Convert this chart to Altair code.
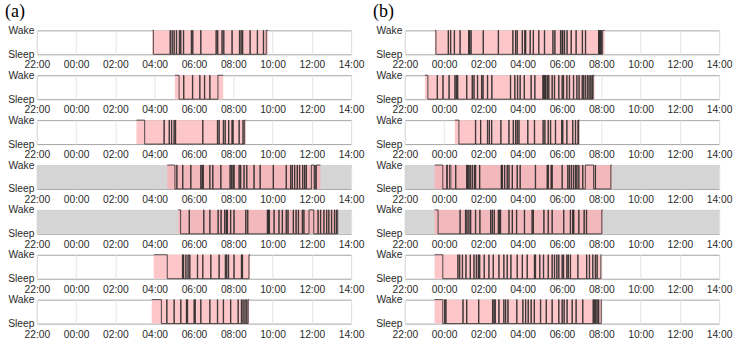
import altair as alt
import pandas as pd

# Time is measured in hours elapsed since 22:00 (0 = 22:00, 16 = 14:00 next day).
HOURS = list(range(0, 17, 2))
BOUT = 0.02  # length (h) of a brief awakening when not given as (start, length)

PANEL_W, PANEL_H = 315, 24
GRAY = "#d5d5d5"
PINK = "#fdc6c9"
PINK_ON_GRAY = "#f3b8bc"
LINE = "#262626"

# ---- column (a) ----
a_start = [5.88, 7.03, 5.07, 6.64, 7.20, 5.95, 5.85]
a_onset = [5.93, 7.24, 5.49, 7.03, 7.32, 6.64, 6.34]
a_final = [11.68, 9.22, 10.58, 14.24, 15.32, 10.80, 10.76]
a_end = [11.78, 9.49, 10.63, 14.44, 15.34, 10.86, 10.81]
a_shaded = [False, False, False, True, True, False, False]

a1_wake = [6.78, 6.88, 6.98, 7.10, 7.25, 7.32, 7.46, 7.86, 7.93, 8.34, 9.12, 9.20,
           9.42, 9.51, 9.93, 10.31, 10.39, 10.47, 10.85, 11.22, 11.53]
a2_wake = [7.47, 7.92, 8.29, 8.53, 8.80]
a3_wake = [6.47, 6.73, 6.85, 6.98, 7.05, 8.44, 9.19, 9.27, 9.49, 9.58, 9.76, 9.93,
           9.98, 10.29, 10.49]
a4_wake = [7.12, 7.42, 7.83, 8.34, 8.41, 8.46, 8.80, 8.95, 9.36, 9.83, 9.90, 9.98,
           10.03, 10.29, 10.37, 10.54, 10.68, 11.05, 11.36, 12.03, 12.69, 12.92, 13.00,
           13.12, 13.25, 13.37, 13.53, 13.63, 13.71, (13.98, 0.14), 14.16]
a5_wake = [7.75, 8.49, 8.80, 9.22, 9.37, 9.56, 9.64, 9.69, 9.86, 10.03, 10.63, 10.73,
           11.73, 11.78, 11.83, 12.07, 12.32, 12.49, 12.69, 12.78, 13.05, 13.19, 13.31,
           13.51, 13.59, (13.86, 0.24), 14.31, 14.44, 14.61, 14.75, 14.86, 15.00, 15.15,
           15.25]
a6_wake = [7.41, 7.46, 7.58, 7.69, 7.78, 8.17, 8.44, 8.85, 9.27, 9.59, 9.66, 9.75,
           10.03, 10.41, 10.46]
a7_wake = [6.61, 6.98, 7.32, 7.61, 7.66, 8.00, 8.05, 8.34, 8.80, 9.19, 9.49, 9.86,
           10.24, 10.41, 10.49, 10.59, 10.68]

# ---- column (b) ----
b_start = [1.53, 1.02, 2.54, 1.51, 1.51, 1.51, 1.51]
b_onset = [1.58, 1.17, 2.75, 1.93, 1.69, 1.93, 1.93]
b_final = [10.07, 9.59, 8.85, 10.49, 10.03, 9.98, 10.00]
b_end = [10.17, 9.66, 8.90, 10.54, 10.07, 10.02, 10.03]
b_shaded = [False, False, False, True, True, False, False]

b1_wake = [2.20, 2.32, 2.51, 2.80, 3.24, 3.29, 3.36, 3.98, 4.75, 5.49, 5.63, 5.71,
           5.97, 6.10, 6.14, 6.37, 6.53, 6.81, 7.10, 7.53, 7.63, 7.92, 8.00, 8.03,
           8.12, 8.25, 8.46, 8.71, 9.03, 9.19, 9.86, 9.90, 9.95, 10.00]
b2_wake = [1.64, 1.93, 2.24, 2.54, 2.61, 2.68, 3.14, 3.42, 3.51, 3.69, 3.90, 3.97,
           4.20, 4.42, 5.37, 5.59, 5.73, 5.86, 6.07, 6.42, 6.61, 7.02, 7.07, 7.12,
           7.17, 7.25, 7.32, 7.49, 7.61, 7.83, 8.00, 8.07, 8.24, 8.37, 8.58, 8.75,
           8.86, 9.02, 9.10, 9.19, 9.29, 9.37, 9.46, 9.53]
b3_wake = [3.59, 3.85, 4.20, 4.29, 4.41, 4.88, 5.29, 5.51, 5.63, 5.71, 5.80, 6.25,
           6.59, 7.03, 7.12, 7.29, 7.41, 7.66, 7.98, 8.03, 8.24, 8.54, 8.68, 8.81]
b4_wake = [(2.12, 0.05), (2.27, 0.07), 2.58, 3.14, 3.19, 3.25, 3.32, 3.42, 3.53, 3.59,
           3.80, 4.90, 4.95, 5.07, 5.20, 5.29, 5.46, 5.71, 5.86, 6.64, 7.24, 7.29,
           7.44, 7.49, 8.00, 8.29, 8.37, 8.47, 8.58, 8.68, 8.75, 8.85, 9.05,
           (9.19, 0.42), 9.69]
b5_wake = [2.80, 3.08, 3.15, 3.25, 3.34, 3.59, 3.81, 4.36, 4.44, 4.54, 4.75, 4.81,
           4.86, 5.29, 5.46, 5.68, 6.08, 6.47, 6.53, 7.07, 7.29, 7.49, 8.08, 8.42,
           8.54, 8.59, 8.85, 9.12, 9.24]
b6_wake = [2.69, 2.78, 2.92, 3.10, 3.32, 3.51, 3.63, 3.73, 3.80, 4.03, 4.27, 4.49,
           4.78, 5.03, 5.20, 5.39, 5.71, 5.97, 6.22, 6.59, 6.64, 6.86, 7.05, 7.29,
           7.49, 7.61, 7.73, 7.83, 8.00, 8.07, 8.24, 8.31, 8.42, 8.80, 9.25, 9.39,
           9.56, 9.69, 9.78]
b7_wake = [2.02, 2.08, 2.95, 3.14, 3.75, 4.46, 4.53, 4.59, 4.78, 5.03, 5.12, 5.24,
           5.69, 6.00, 6.14, 6.27, 6.42, 6.58, 6.90, 7.19, 7.49, 7.83, 8.00, 8.10,
           8.25, 8.51, 8.71, 9.05, 9.58, 9.64, 9.71, 9.78, 9.86]

a_wake = [a1_wake, a2_wake, a3_wake, a4_wake, a5_wake, a6_wake, a7_wake]
b_wake = [b1_wake, b2_wake, b3_wake, b4_wake, b5_wake, b6_wake, b7_wake]

X_SCALE = alt.Scale(domain=[HOURS[0], HOURS[-1]], nice=False, zero=False)
Y_SCALE = alt.Scale(domain=[0, 1], nice=False, zero=False)
CLOCK = ("((datum.value + 22) % 24 < 10 ? '0' : '') + "
         "((datum.value + 22) % 24) + ':00'")
X_AXIS = alt.Axis(values=HOURS, labelExpr=CLOCK, title=None, grid=True,
                  gridColor="#e4e4e4", domain=False, ticks=False, labelPadding=5.5,
                  labelFlush=False, labelOverlap=False)
Y_AXIS = alt.Axis(values=[0, 1], labelExpr="datum.value == 1 ? 'Wake' : 'Sleep'",
                  title=None, grid=False, domain=False, ticks=False, labelPadding=3,
                  labelFlush=False, labelOverlap=False)


def hypnogram(start, onset, wake, final, end):
    """Step trace: 1 = Wake, 0 = Sleep."""
    rows = [(start, 1), (onset, 0)]
    for bout in wake:
        t, d = bout if isinstance(bout, tuple) else (bout, BOUT)
        rows += [(t, 1), (t + d, 0)]
    rows += [(final, 1), (end, 1)]
    return pd.DataFrame(rows, columns=["t", "state"])


def panel(start, onset, wake, final, end, shaded, label=None):
    x = alt.X("t:Q", scale=X_SCALE, axis=X_AXIS)
    layers = []
    if shaded:
        bg = pd.DataFrame({"t": [HOURS[0]], "t2": [HOURS[-1]]})
        layers.append(
            alt.Chart(bg).mark_rect(color=GRAY).encode(
                x=x, x2="t2", y=alt.value(0), y2=alt.value(PANEL_H)))
    period = pd.DataFrame({"t": [start], "t2": [end]})
    layers.append(
        alt.Chart(period).mark_rect(color=PINK_ON_GRAY if shaded else PINK).encode(
            x=x, x2="t2", y=alt.value(0), y2=alt.value(PANEL_H)))
    layers.append(
        alt.Chart(hypnogram(start, onset, wake, final, end))
        .mark_line(interpolate="step-after", color=LINE, strokeWidth=0.8)
        .encode(x=x, y=alt.Y("state:Q", scale=Y_SCALE, axis=Y_AXIS)))
    chart = alt.layer(*layers).properties(width=PANEL_W, height=PANEL_H)
    if label:
        chart = chart.properties(title=alt.Title(
            label, anchor="start", frame="group", dx=-32, offset=4,
            font="Liberation Serif", fontSize=18, fontWeight="normal", color="black"))
    return chart


cells = []
for i in range(7):
    cells.append(panel(a_start[i], a_onset[i], a_wake[i], a_final[i], a_end[i],
                       a_shaded[i], "(a)" if i == 0 else None))
    cells.append(panel(b_start[i], b_onset[i], b_wake[i], b_final[i], b_end[i],
                       b_shaded[i], "(b)" if i == 0 else None))

chart = (
    alt.concat(*cells, columns=2, spacing={"row": 21, "column": 54}, bounds="flush")
    .properties(padding={"left": 4, "top": 2, "right": 4, "bottom": 2})
    .configure_view(stroke="#a6a6a6", strokeWidth=1)
    .configure_axis(labelFont="Liberation Sans", labelFontSize=10.3, labelColor="#2a2a2a")
)

chart.save("out.html", embed_options={"renderer": "svg", "actions": False})
